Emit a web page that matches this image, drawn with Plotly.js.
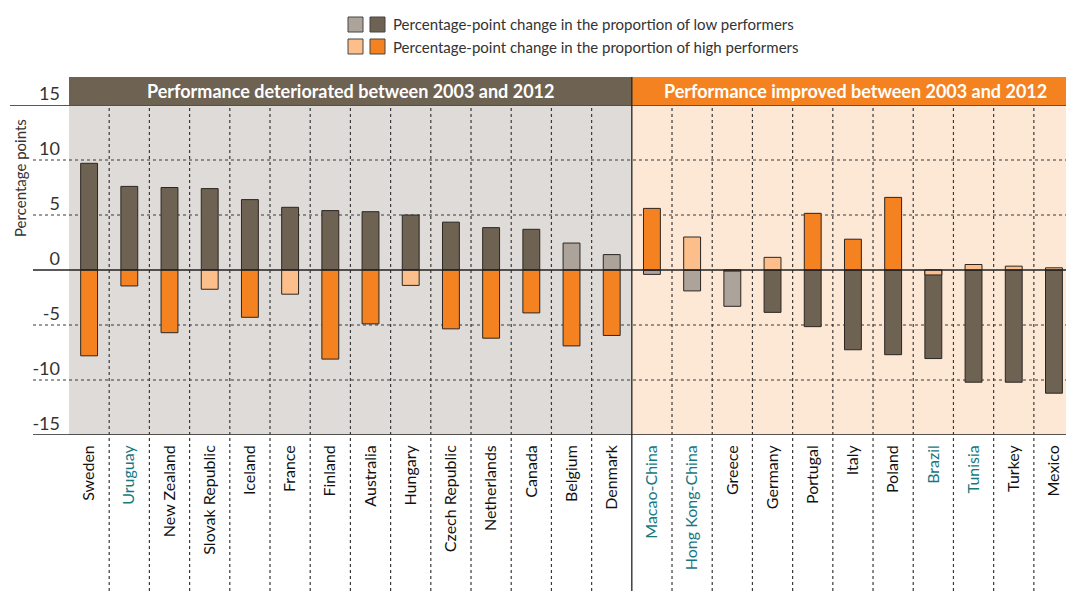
<!DOCTYPE html>
<html>
<head>
<meta charset="utf-8">
<script src="https://cdn.plot.ly/plotly-3.0.1.min.js"></script>
<style>html,body{margin:0;padding:0;background:#fff}#chart{width:1066px;height:591px}</style>
</head>
<body>
<div id="chart"></div>
<script>
// ---- Data ----
var countries = ["Sweden","Uruguay","New Zealand","Slovak Republic","Iceland","France","Finland","Australia","Hungary","Czech Republic","Netherlands","Canada","Belgium","Denmark",
                 "Macao-China","Hong Kong-China","Greece","Germany","Portugal","Italy","Poland","Brazil","Tunisia","Turkey","Mexico"];
var partners = ["Uruguay","Macao-China","Hong Kong-China","Brazil","Tunisia"];
// Percentage-point change in the proportion of low performers
var lowChange = [9.7, 7.6, 7.5, 7.4, 6.4, 5.7, 5.4, 5.3, 5.0, 4.35, 3.85, 3.7, 2.45, 1.4,
                 -0.4, -1.9, -3.3, -3.85, -5.15, -7.25, -7.7, -8.05, -10.2, -10.2, -11.2];
var lowSignificant = [1,1,1,1,1,1,1,1,1,1,1,1,0,0, 0,0,0,1,1,1,1,1,1,1,1];
// Percentage-point change in the proportion of high performers
var highChange = [-7.8, -1.45, -5.7, -1.75, -4.3, -2.2, -8.1, -4.9, -1.4, -5.35, -6.2, -3.9, -6.9, -5.95,
                  5.6, 3.0, -0.1, 1.15, 5.15, 2.8, 6.6, -0.45, 0.5, 0.35, 0.2];
var highSignificant = [1,1,1,0,1,0,1,1,0,1,1,1,1,1, 1,0,1,0,1,1,1,0,0,0,0];
var yTicks = [-15,-10,-5,0,5,10,15];
var groupLabels = ["Performance deteriorated between 2003 and 2012","Performance improved between 2003 and 2012"];
var groupSize = [14, 11];
var legendLabels = ["Percentage-point change in the proportion of low performers","Percentage-point change in the proportion of high performers"];

// ---- Style ----
var C = {lowDark:"#6e6253", lowLight:"#aca39a", highDark:"#f58220", highLight:"#fcbf8b",
         bgLeft:"#dfdbd8", bgRight:"#fde7d5", teal:"#17777f", edge:"#2b2622", grid:"#3a3a3a"};
var FONT = "Lato, 'Open Sans', sans-serif";
var H = 330; // plot height px
function py(px){ return (435 - px) / H; }      // page y px -> paper
function px2(x){ return (x - 69) / 997; }       // page x px -> paper

var lowColors = lowSignificant.map(function(s){return s ? C.lowDark : C.lowLight;});
var highColors = highSignificant.map(function(s){return s ? C.highDark : C.highLight;});
var tickText = countries.map(function(c){
  return partners.indexOf(c) >= 0 ? '<span style="color:' + C.teal + '">' + c + '</span>' : c;
});

var traces = [
  {type:"bar", x:countries, y:lowChange, width:0.42, name:legendLabels[0],
   marker:{color:lowColors, line:{color:C.edge, width:1}}, hoverinfo:"x+y"},
  {type:"bar", x:countries, y:highChange, width:0.42, name:legendLabels[1],
   marker:{color:highColors, line:{color:C.edge, width:1}}, hoverinfo:"x+y"}
];

var shapes = [];
var split = groupSize[0] - 0.5;
var xEnd = countries.length - 0.5;
// backgrounds
shapes.push({type:"rect", layer:"below", xref:"x", yref:"paper", x0:-0.5, x1:split, y0:0, y1:1, fillcolor:C.bgLeft, line:{width:0}});
shapes.push({type:"rect", layer:"below", xref:"x", yref:"paper", x0:split, x1:xEnd, y0:0, y1:1, fillcolor:C.bgRight, line:{width:0}});
// header bands
shapes.push({type:"rect", layer:"above", xref:"x", yref:"paper", x0:-0.5, x1:split, y0:1, y1:py(77), fillcolor:C.lowDark, line:{width:0}});
shapes.push({type:"rect", layer:"above", xref:"x", yref:"paper", x0:split, x1:xEnd, y0:1, y1:py(77), fillcolor:C.highDark, line:{width:0}});
// horizontal grid lines
yTicks.forEach(function(v){
  var solid = (v === 0 || Math.abs(v) === 15);
  shapes.push({type:"line", layer: v===0 ? "above" : "below", xref:"paper", yref:"y",
    x0: v === 15 ? px2(10) : px2(33), x1:1, y0:v, y1:v,
    line:{color: solid ? "#222" : C.grid, width: solid ? 1.3 : 1.2, dash: solid ? "solid" : "3px,3px"}});
});
// vertical separators
for (var i = 0; i < countries.length - 1; i++) {
  var xv = i + 0.5;
  if (xv === split) {
    shapes.push({type:"line", layer:"above", xref:"x", yref:"paper", x0:xv, x1:xv, y0:py(591), y1:py(77), line:{color:"#222", width:1.3}});
  } else {
    shapes.push({type:"line", layer:"below", xref:"x", yref:"paper", x0:xv, x1:xv, y0:py(591), y1:1, line:{color:C.grid, width:1.2, dash:"3px,3px"}});
  }
}
// legend squares
var sq = [[C.lowLight, C.lowDark, 17, 32], [C.highLight, C.highDark, 39, 54]];
sq.forEach(function(r){
  shapes.push({type:"rect", xref:"paper", yref:"paper", x0:px2(348), x1:px2(363), y0:py(r[3]), y1:py(r[2]), fillcolor:r[0], line:{color:"#444", width:1}});
  shapes.push({type:"rect", xref:"paper", yref:"paper", x0:px2(370), x1:px2(385), y0:py(r[3]), y1:py(r[2]), fillcolor:r[1], line:{color:"#444", width:1}});
});

var annotations = [
  {text:"<b>" + groupLabels[0] + "</b>", xref:"x", yref:"paper", x:(-0.5 + split)/2, y:py(91), showarrow:false,
   font:{family:FONT, size:18, color:"#fff"}, xanchor:"center", yanchor:"middle"},
  {text:"<b>" + groupLabels[1] + "</b>", xref:"paper", yref:"paper", x:px2(855), y:py(91), showarrow:false,
   font:{family:FONT, size:18, color:"#fff"}, xanchor:"center", yanchor:"middle"},
  {text:"Percentage points", xref:"paper", yref:"paper", x:px2(20), y:py(178), textangle:-90, showarrow:false,
   font:{family:FONT, size:15, color:"#333"}, xanchor:"center", yanchor:"middle"},
  {text:legendLabels[0], xref:"paper", yref:"paper", x:px2(391), y:py(24), showarrow:false,
   font:{family:FONT, size:15, color:"#333"}, xanchor:"left", yanchor:"middle"},
  {text:legendLabels[1], xref:"paper", yref:"paper", x:px2(391), y:py(47), showarrow:false,
   font:{family:FONT, size:15, color:"#333"}, xanchor:"left", yanchor:"middle"}
];

var layout = {
  width:1066, height:591,
  margin:{l:69, r:0, t:105, b:156, pad:0},
  paper_bgcolor:"#fff", plot_bgcolor:"rgba(0,0,0,0)",
  barmode:"overlay", showlegend:false,
  font:{family:FONT, color:"#222"},
  xaxis:{type:"category", range:[-0.5, 24.3], tickvals:countries, ticktext:tickText, tickangle:-90,
         showgrid:false, zeroline:false, showline:false, ticks:"", ticklabelstandoff:6,
         tickfont:{family:FONT, size:16, color:"#111"}, fixedrange:true},
  yaxis:{range:[-15,15], tickvals:yTicks, ticktext:yTicks.map(String), showgrid:false, zeroline:false, showline:false,
         ticks:"", ticklabelstandoff:8, ticklabelshift:-11, tickfont:{family:FONT, size:18, color:"#333"}, fixedrange:true},
  shapes:shapes, annotations:annotations
};

Plotly.newPlot("chart", traces, layout, {displayModeBar:false, staticPlot:true});
</script>
</body>
</html>
